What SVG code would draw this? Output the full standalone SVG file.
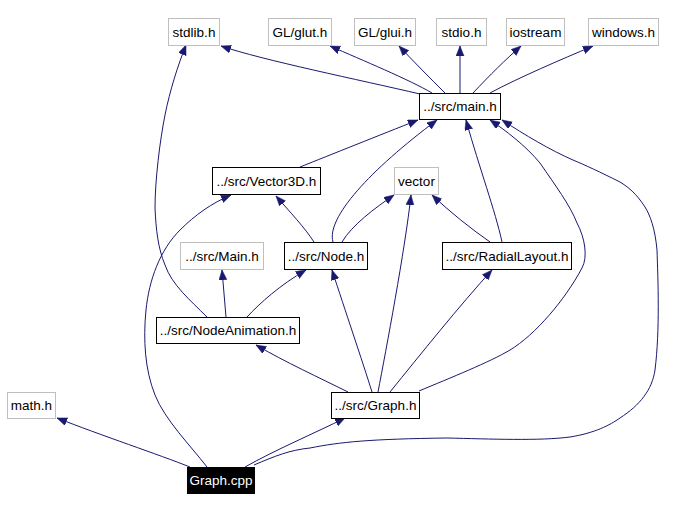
<svg xmlns="http://www.w3.org/2000/svg" width="678" height="525" viewBox="0 0 678 525">
<style>
.n rect{fill:#ffffff;stroke:#000000;stroke-width:1}
.g rect{fill:#ffffff;stroke:#bfbfbf;stroke-width:1}
.r rect{fill:#000000;stroke:#000000;stroke-width:1}
text{font-family:"Liberation Sans",Arial,sans-serif;font-size:13.5px;text-anchor:middle;fill:#000000}
.r text{fill:#ffffff}
#edges path{fill:none;stroke:#191970;stroke-width:1;marker-end:url(#ah)}
</style>
<defs>
<marker id="ah" markerUnits="userSpaceOnUse" markerWidth="11" markerHeight="9" refX="10" refY="4" orient="auto">
<path d="M0,0 L10,4 L0,8 z" fill="#191970" stroke="#191970" stroke-width="0.5"/>
</marker>
</defs>
<rect width="678" height="525" fill="#ffffff"/>
<g id="edges">
<path d="M420,94 C360,80 262,60 221,46"/>
<path d="M432,93 C410,80 362,60 330,46"/>
<path d="M445,93 C430,78 414,62 399,46"/>
<path d="M460,93 L460,46"/>
<path d="M473,93 C490,75 505,60 521,46"/>
<path d="M490,93 C520,77 560,60 593,46"/>
<path d="M300,167 C330,155 380,135 418,120"/>
<path d="M333,242 C326,218 370,170 437,120"/>
<path d="M342,242 C352,225 375,208 394,195"/>
<path d="M378,392 C386,350 405,250 411,195"/>
<path d="M490,242 C470,228 450,212 432,195"/>
<path d="M502,242 C495,210 480,170 466,120"/>
<path d="M419,391 C450,378 490,362 510,350 C535,335 565,300 582,268 C588,257 585,238 577,223 C570,205 555,185 540,163 C525,145 505,130 490,120"/>
<path d="M254,465 C275,456 290,450 310,448 C340,442 370,439 447,438 C490,439 540,441 570,437 C595,433 610,425 620,418 C640,405 652,390 655,370 C660,330 658,280 657,250 C655,228 650,215 645,207 C636,193 628,187 620,182 C600,172 585,165 573,160 C550,150 525,135 502,120"/>
<path d="M207,317 C190,300 172,285 165,265 C158,248 156,230 155,208 C155,180 160,140 165,115 C170,90 178,65 186,45"/>
<path d="M207,467 C190,445 165,420 155,395 C145,370 143,340 146,310 C149,280 160,250 180,230 C195,215 212,203 231,195"/>
<path d="M314,242 C305,228 290,212 276,196"/>
<path d="M226,317 L222,270"/>
<path d="M247,317 C260,303 280,285 306,270"/>
<path d="M348,392 C320,378 285,362 256,345"/>
<path d="M372,392 C362,360 345,310 332,270"/>
<path d="M390,392 C420,355 460,305 492,270"/>
<path d="M190,467 C160,455 100,435 57,418"/>
<path d="M245,467 C275,450 315,433 345,418"/>
</g>
<g id="stdlib" class="g"><rect x="168.5" y="18.5" width="51" height="27"/><text x="194" y="36.5">stdlib.h</text></g>
<g id="glut" class="g"><rect x="268.5" y="18.5" width="63" height="27"/><text x="300" y="36.5">GL/glut.h</text></g>
<g id="glui" class="g"><rect x="354.5" y="18.5" width="61" height="27"/><text x="385" y="36.5">GL/glui.h</text></g>
<g id="stdio" class="g"><rect x="436.5" y="18.5" width="50" height="27"/><text x="461.5" y="36.5">stdio.h</text></g>
<g id="iostream" class="g"><rect x="506.5" y="18.5" width="58" height="27"/><text x="535.5" y="36.5">iostream</text></g>
<g id="windows" class="g"><rect x="588.5" y="18.5" width="70" height="27"/><text x="623.5" y="36.5">windows.h</text></g>
<g id="main" class="n"><rect x="419.5" y="93.5" width="81" height="26"/><text x="460" y="111">../src/main.h</text></g>
<g id="vector3d" class="n"><rect x="212.5" y="167.5" width="108" height="27"/><text x="266.5" y="185.5">../src/Vector3D.h</text></g>
<g id="vector" class="g"><rect x="394.5" y="167.5" width="44" height="27"/><text x="416.5" y="185.5">vector</text></g>
<g id="mainh2" class="g"><rect x="180.5" y="242.5" width="83" height="27"/><text x="222" y="260.5">../src/Main.h</text></g>
<g id="node" class="n"><rect x="284.5" y="242.5" width="83" height="27"/><text x="326" y="260.5">../src/Node.h</text></g>
<g id="radial" class="n"><rect x="442.5" y="242.5" width="129" height="27"/><text x="507" y="260.5">../src/RadialLayout.h</text></g>
<g id="nodeanim" class="n"><rect x="156.5" y="317.5" width="143" height="26"/><text x="228" y="335">../src/NodeAnimation.h</text></g>
<g id="math" class="g"><rect x="7.5" y="392.5" width="48" height="26"/><text x="31.5" y="410">math.h</text></g>
<g id="graphh" class="n"><rect x="331.5" y="392.5" width="88" height="26"/><text x="375.5" y="410">../src/Graph.h</text></g>
<g id="graphcpp" class="r"><rect x="187.5" y="467.5" width="67" height="26"/><text x="221" y="485">Graph.cpp</text></g>
</svg>
